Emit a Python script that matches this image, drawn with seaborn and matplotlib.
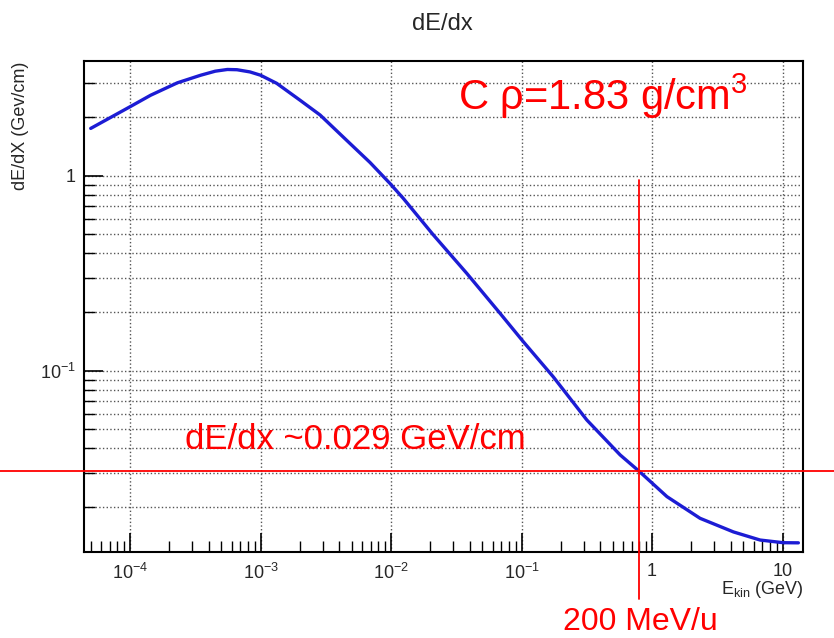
import numpy as np
import pandas as pd
import matplotlib
matplotlib.use('Agg')
import matplotlib.pyplot as plt
import matplotlib.ticker as mticker
import seaborn as sns

# curve (E_kin in GeV, dE/dx in GeV/cm)
energy_gev = [5.0e-5, 1.0e-4, 1.44e-4, 2.31e-4, 3.48e-4, 4.5e-4, 5.57e-4, 6.6e-4, 8.3e-4, 1.0e-3,
              1.33e-3, 2.01e-3, 2.86e-3, 4.57e-3, 6.9e-3, 9.8e-3, 1.24e-2, 2.11e-2, 3.80e-2, 6.84e-2,
              0.103, 0.175, 0.316, 0.569, 0.80, 1.30, 2.33, 4.2, 6.72, 10.1, 13.2]
dedx = [1.75, 2.26, 2.59, 3.0, 3.28, 3.44, 3.51, 3.50, 3.41, 3.28,
        2.98, 2.44, 2.05, 1.52, 1.17, 0.914, 0.766, 0.497, 0.316, 0.197,
        0.141, 0.093, 0.0559, 0.0370, 0.0304, 0.0226, 0.0175, 0.0149, 0.01354, 0.01312, 0.0131]

e_mark = 0.80        # 200 MeV/u
dedx_mark = 0.0306   # ~0.029 GeV/cm

df = pd.DataFrame({'E': energy_gev, 'dEdx': dedx})

sns.set_style('ticks')
plt.rcParams['font.family'] = ['Liberation Sans', 'DejaVu Sans']
plt.rcParams['mathtext.default'] = 'regular'

fig = plt.figure(figsize=(8.34, 6.38), dpi=100)
ax = fig.add_axes([0.1007, 0.1353, 0.8625, 0.7691])

sns.lineplot(data=df, x='E', y='dEdx', ax=ax, color='#1c1cd4', linewidth=2.4)

ax.set_xscale('log')
ax.set_yscale('log')
ax.set_xlim(4.44e-5, 14.4)
ax.set_ylim(0.0118, 3.88)

def fmt(v, pos):
    n = int(round(np.log10(v)))
    if n >= 0:
        return '%d' % round(v)
    return r'$10^{%d}$' % n

ax.xaxis.set_major_locator(mticker.LogLocator(base=10, numticks=20))
ax.xaxis.set_minor_locator(mticker.LogLocator(base=10, subs=np.arange(2, 10), numticks=20))
ax.yaxis.set_major_locator(mticker.LogLocator(base=10, numticks=20))
ax.yaxis.set_minor_locator(mticker.LogLocator(base=10, subs=np.arange(2, 10), numticks=20))
ax.xaxis.set_major_formatter(mticker.FuncFormatter(fmt))
ax.yaxis.set_major_formatter(mticker.FuncFormatter(fmt))
ax.yaxis.set_minor_formatter(mticker.NullFormatter())

ax.tick_params(axis='both', which='major', direction='in', length=14, width=1.2,
               labelsize=13, color='black')
ax.tick_params(axis='both', which='minor', direction='in', length=8, width=1.0, color='black')
ax.tick_params(axis='x', which='major', pad=8)
ax.tick_params(axis='y', which='major', pad=6)

ax.grid(True, which='major', axis='x', linestyle=':', color='#555555', linewidth=1.0)
ax.grid(True, which='both', axis='y', linestyle=':', color='#555555', linewidth=1.0)

for s in ax.spines.values():
    s.set_linewidth(1.5)
    s.set_color('black')

ax.set_xlabel('')
ax.set_ylabel('')
fig.text(0.53, 0.963, 'dE/dx', ha='center', va='center', fontsize=17)
fig.text(0.024, 0.904, 'dE/dX (Gev/cm)', rotation=90, ha='center', va='top', fontsize=13)
ax.text(1.0, -0.055, r'E$_{kin}$ (GeV)', transform=ax.transAxes, ha='right', va='top', fontsize=13)

# red annotation lines
ax.axhline(dedx_mark, xmin=-0.117, xmax=1.043, color='red', linewidth=1.3, clip_on=False, zorder=5)
ax.axvline(e_mark, ymin=-0.096, ymax=0.7575, color='red', linewidth=1.3, clip_on=False, zorder=5)

ax.text(0.52, 0.90, r'C $\rho$=1.83 g/cm$^3$', transform=ax.transAxes, color='red',
        fontsize=30, ha='left', va='baseline')
ax.text(0.14, 0.21, 'dE/dx ~0.029 GeV/cm', transform=ax.transAxes, color='red',
        fontsize=25, ha='left', va='baseline')
fig.text(0.7674, 0.012, '200 MeV/u', color='red', fontsize=23, ha='center', va='baseline')

fig.savefig('out.png', dpi=100)
